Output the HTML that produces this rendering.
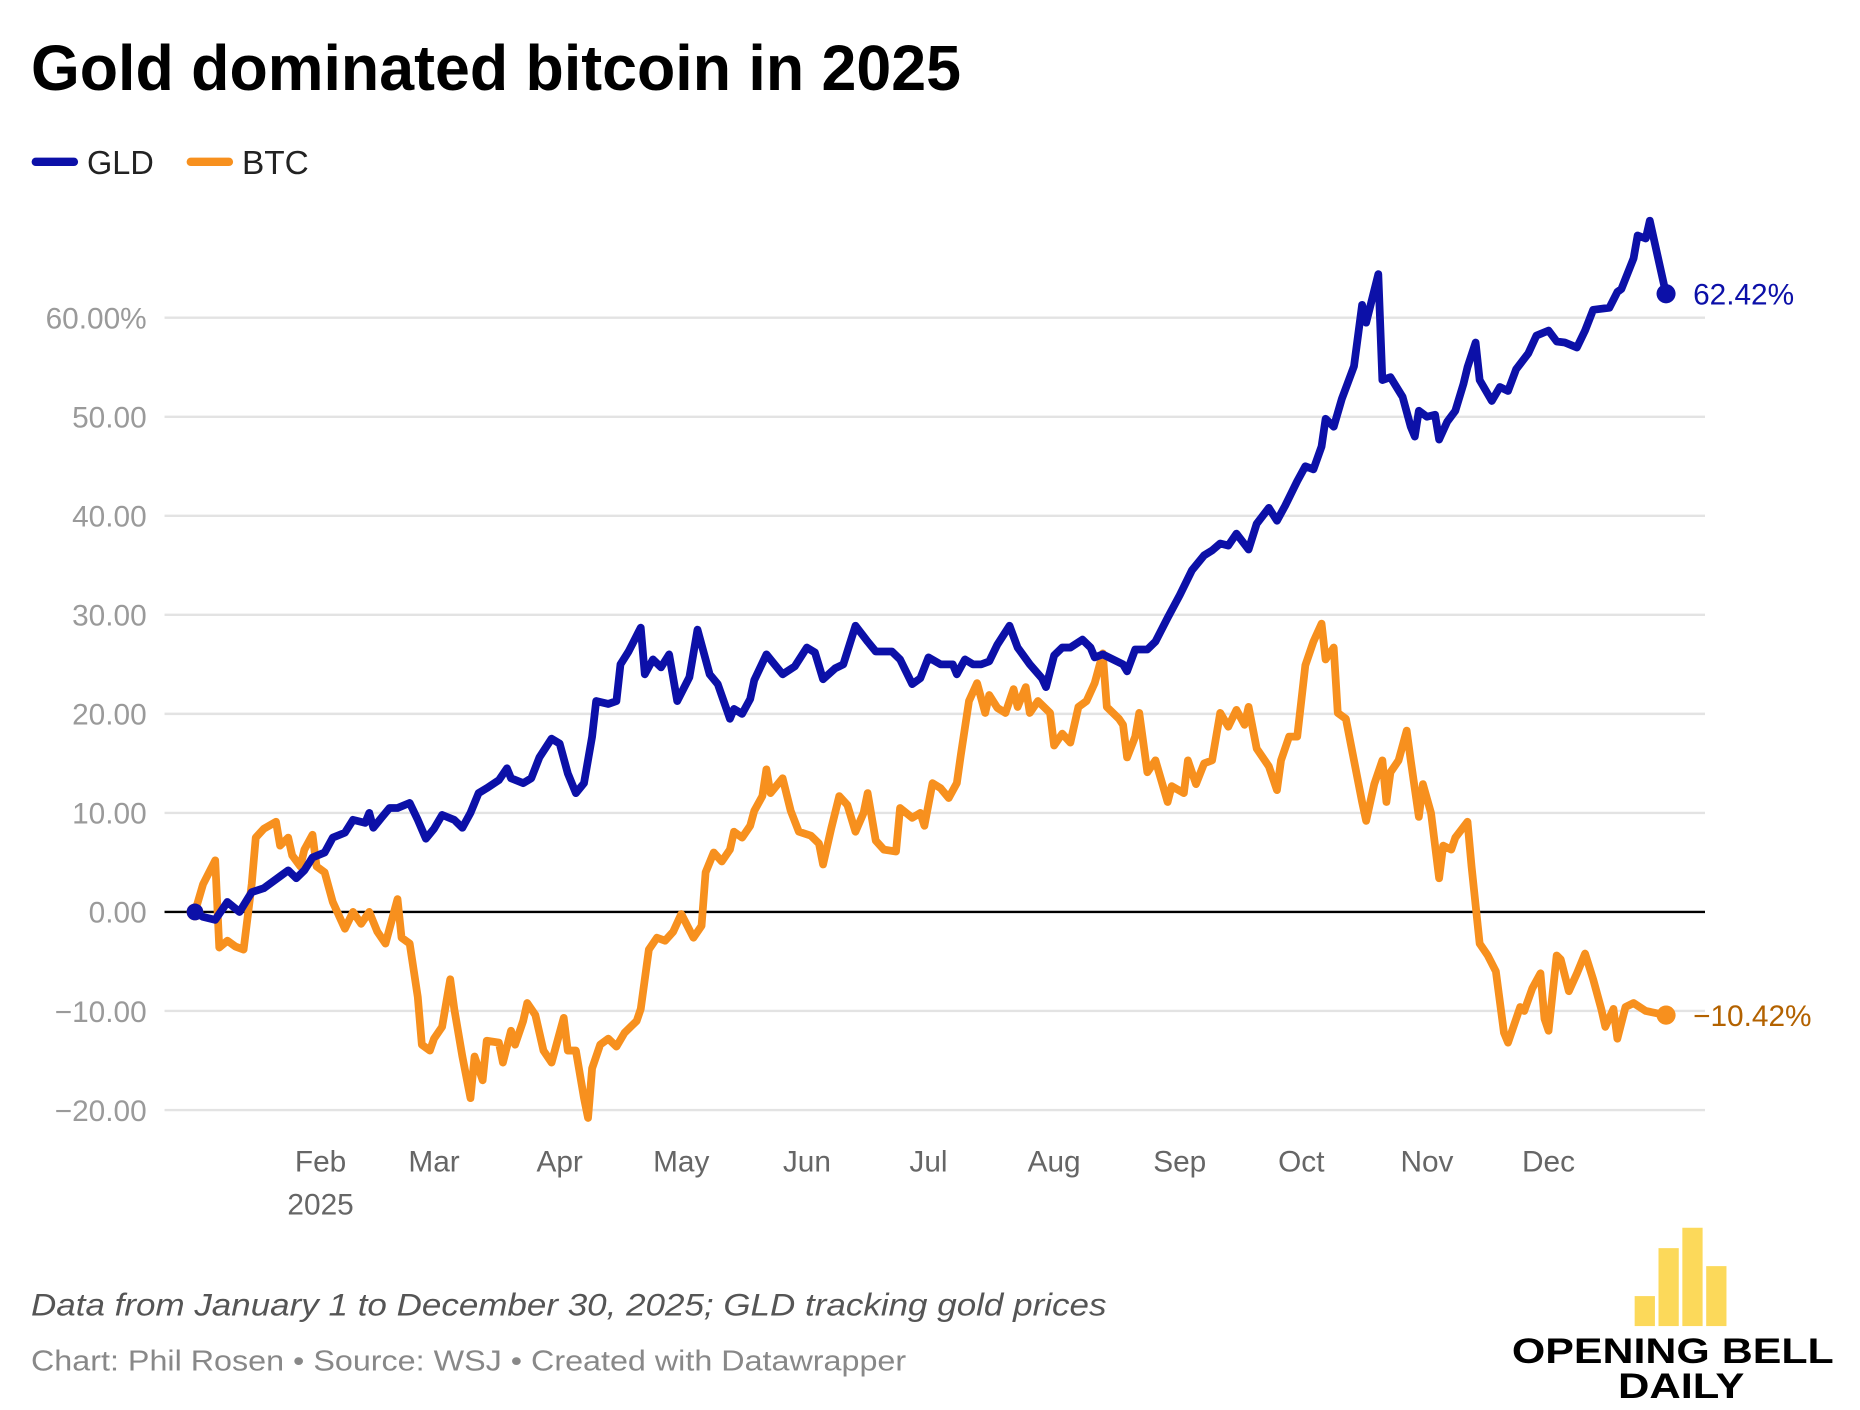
<!DOCTYPE html>
<html><head><meta charset="utf-8"><style>
html,body{margin:0;padding:0;background:#fff;}
svg{display:block;}
text{font-family:"Liberation Sans",sans-serif;}
</style></head><body>
<svg id="chart" width="1860" height="1410" viewBox="0 0 1560 1176" preserveAspectRatio="none" xmlns="http://www.w3.org/2000/svg">
<text x="26" y="75" font-size="53" font-weight="bold" fill="#000" textLength="780" lengthAdjust="spacingAndGlyphs">Gold dominated bitcoin in 2025</text>
<g>
<line x1="30" y1="135" x2="62" y2="135" stroke="#0c10a8" stroke-width="7" stroke-linecap="round"/>
<text x="73" y="145" font-size="28" fill="#222" textLength="56" lengthAdjust="spacingAndGlyphs">GLD</text>
<line x1="160" y1="135" x2="192" y2="135" stroke="#f7901e" stroke-width="7" stroke-linecap="round"/>
<text x="203" y="145" font-size="28" fill="#222" textLength="56" lengthAdjust="spacingAndGlyphs">BTC</text>
</g>
<g id="grid"></g>
<g id="yticks"></g>
<g id="xticks"></g>
<g id="series"></g>
<text x="26" y="1097" font-size="26" font-style="italic" fill="#555" textLength="902" lengthAdjust="spacingAndGlyphs">Data from January 1 to December 30, 2025; GLD tracking gold prices</text>
<text x="26" y="1143" font-size="24" fill="#888" textLength="734" lengthAdjust="spacingAndGlyphs">Chart: Phil Rosen • Source: WSJ • Created with Datawrapper</text>
<g>
<rect x="1371" y="1081" width="17" height="25" fill="#fcd95a"/>
<rect x="1391" y="1041" width="17" height="65" fill="#fcd95a"/>
<rect x="1411" y="1024" width="17" height="82" fill="#fcd95a"/>
<rect x="1431" y="1056" width="17" height="50" fill="#fcd95a"/>
<text x="1268" y="1137" font-size="29" font-weight="bold" fill="#000" textLength="270" lengthAdjust="spacingAndGlyphs">OPENING BELL</text>
<text x="1357" y="1166" font-size="29" font-weight="bold" fill="#000" textLength="106" lengthAdjust="spacingAndGlyphs">DAILY</text>
</g>
</svg>
<script>
const yTicks = [60, 50, 40, 30, 20, 10, 0, -10, -20];
const yTickLabels = ["60.00%", "50.00", "40.00", "30.00", "20.00", "10.00", "0.00", "\u221210.00", "\u221220.00"];
const monthNames = ["Feb", "Mar", "Apr", "May", "Jun", "Jul", "Aug", "Sep", "Oct", "Nov", "Dec"];
const monthDays = [31, 59, 90, 120, 151, 181, 212, 243, 273, 304, 334];
const gldDays = [0,2,5,8,11,14,17,21,23,25,27,29,32,34,37,39,42,43,44,46,48,50,53,55,57,59,61,64,66,68,70,72,75,77,78,81,83,85,88,90,92,94,96,98,99,102,104,105,107,110,111,113,115,117,119,122,124,127,129,132,133,135,137,138,141,143,145,148,151,153,155,158,160,163,166,168,172,174,177,179,181,184,187,188,190,192,194,196,198,201,203,206,209,210,212,214,216,219,221,222,224,227,229,230,232,235,237,240,243,246,249,251,253,255,257,260,262,265,267,269,272,274,276,278,279,281,283,286,288,289,292,293,295,298,300,301,302,304,306,307,309,311,313,314,316,317,320,322,324,326,329,331,334,336,338,341,343,345,349,351,352,355,356,358,359,363];
const gldValues = [0,-0.5,-0.8,1,0,2,2.4,3.6,4.2,3.4,4.2,5.5,6,7.5,8,9.3,9,10,8.5,9.5,10.5,10.5,11,9.3,7.4,8.4,9.8,9.3,8.5,10,12,12.5,13.3,14.5,13.5,13,13.5,15.6,17.5,17,14,12,13,17.7,21.3,21,21.3,25,26.3,28.7,24,25.5,24.7,26,21.3,23.7,28.5,24,23,19.5,20.5,20,21.5,23.4,26,25,24,24.8,26.7,26.2,23.5,24.6,25,28.9,27.3,26.3,26.3,25.5,23,23.6,25.7,25,25,24,25.5,25,25,25.3,27,28.9,26.7,25,23.6,22.7,25.9,26.7,26.7,27.5,26.7,25.7,26,25.4,25,24.3,26.5,26.5,27.3,29.7,32,34.5,36,36.5,37.2,37,38.2,36.6,39.2,40.8,39.5,41,43.5,45,44.7,47,49.8,49,51.8,55.1,61.3,59.5,64.4,53.7,54,52,49,48,50.6,50,50.2,47.7,49.5,50.6,53.3,55,57.5,53.7,51.6,53,52.6,54.8,56.4,58.2,58.7,57.6,57.5,57,58.7,60.8,61,62.6,62.9,66,68.3,68,69.8,62.42];
const btcDays = [0,2,5,6,8,10,12,14,15,17,20,21,23,24,26,27,29,30,32,34,36,37,39,41,43,45,47,50,51,53,55,56,58,59,61,63,64,66,68,69,71,72,75,76,78,79,81,82,84,86,88,91,92,94,96,97,98,100,102,104,106,109,110,112,114,116,118,120,123,125,126,128,130,132,133,135,137,138,140,141,142,145,147,149,152,154,155,157,159,161,163,165,166,168,170,173,174,177,179,180,182,184,186,188,189,191,193,195,196,198,200,202,203,205,206,208,211,212,214,216,218,220,222,224,225,228,229,230,232,233,235,237,240,241,244,245,247,249,251,253,255,257,259,260,262,265,267,268,270,272,274,276,278,279,281,282,284,286,288,289,291,293,294,295,297,299,300,302,303,305,307,308,310,311,314,315,317,319,321,323,324,327,328,330,332,333,334,336,337,339,341,343,345,347,348,350,351,353,355,358,363];
const btcValues = [0,2.8,5.2,-3.6,-2.9,-3.5,-3.8,2.8,7.5,8.4,9.1,6.7,7.5,5.7,4.6,6.3,7.8,4.6,4,1,-0.8,-1.7,0,-1.2,0,-2,-3.2,1.3,-2.6,-3.2,-8.6,-13.4,-14,-12.8,-11.6,-6.8,-9.8,-14.6,-18.8,-14.6,-17,-13,-13.2,-15.2,-12,-13.4,-11,-9.2,-10.4,-14,-15.2,-10.7,-14,-14,-18.8,-20.8,-15.8,-13.4,-12.8,-13.6,-12.2,-11,-9.8,-3.8,-2.6,-2.9,-2,-0.2,-2.6,-1.4,4,6,5.1,6.3,8.1,7.5,8.7,10.2,11.7,14.4,12,13.5,10.2,8.1,7.7,6.9,4.8,8.4,11.7,10.8,8.1,10,12,7.2,6.3,6.1,10.5,9.5,10,8.7,13,12.5,11.5,13,15.9,21.3,23.1,20.1,21.9,20.6,20.1,22.5,20.7,22.7,20.1,21.3,20.1,16.8,18,17.1,20.7,21.3,23.1,26.1,20.7,19.5,18.9,15.6,17.7,20.1,14.1,15.3,11.1,12.7,12,15.3,12.9,15,15.3,20.1,18.7,20.4,18.9,20.7,16.5,14.7,12.3,15.3,17.7,17.7,24.9,27.3,29.1,25.5,26.7,20.1,19.5,15.3,11.1,9.2,12.9,15.3,11.1,14.1,15.3,18.3,15.3,9.6,12.9,10,3.4,6.7,6.3,7.5,9.1,4.6,-3.2,-4.4,-6,-12.2,-13.2,-9.6,-10,-7.7,-6.2,-10.8,-12,-4.4,-4.8,-8,-6.2,-4.2,-6.8,-9.8,-11.6,-9.8,-12.8,-9.6,-9.2,-10,-10.42];

const NS = "http://www.w3.org/2000/svg";
const plotLeft = 138, plotRight = 1430;
function xScale(d) { return 163.5 + d * 3.399; }
function yScale(v) { return 760.6 - v * 8.26; }
function mk(tag, attrs, parent) {
  const el = document.createElementNS(NS, tag);
  for (const k in attrs) el.setAttribute(k, attrs[k]);
  parent.appendChild(el);
  return el;
}
const grid = document.getElementById('grid');
const yt = document.getElementById('yticks');
yTicks.forEach((v, i) => {
  const ln = mk('line', {x1: plotLeft, x2: plotRight, y1: yScale(v), y2: yScale(v), stroke: v === 0 ? '#000' : '#e3e3e3', 'stroke-width': 2}, grid);
  
  
  const t = mk('text', {x: 123, y: yScale(v) + 9, 'font-size': 25, fill: '#9a9a9a', 'text-anchor': 'end'}, yt);
  t.textContent = yTickLabels[i];
  
  
});
const xt = document.getElementById('xticks');
monthNames.forEach((m, i) => {
  const t = mk('text', {x: xScale(monthDays[i]), y: 977, 'font-size': 25, fill: '#666', 'text-anchor': 'middle'}, xt);
  t.textContent = m;
  
  
});
const yr = mk('text', {x: xScale(monthDays[0]), y: 1013, 'font-size': 25, fill: '#666', 'text-anchor': 'middle'}, xt);
yr.textContent = '2025';



const ser = document.getElementById('series');
function drawLine(days, vals, color, name) {
  const d = days.map((dd, i) => (i ? 'L' : 'M') + xScale(dd).toFixed(1) + ',' + yScale(vals[i]).toFixed(1)).join(' ');
  const p = mk('path', {d: d, fill: 'none', stroke: color, 'stroke-width': 6.5, 'stroke-linejoin': 'round', 'stroke-linecap': 'round'}, ser);
  
  
  const c0 = mk('circle', {cx: xScale(days[0]), cy: yScale(vals[0]), r: 7, fill: color}, ser);
  
  
  const n = days.length - 1;
  const c1 = mk('circle', {cx: xScale(days[n]), cy: yScale(vals[n]), r: 8, fill: color}, ser);
  
  
}
drawLine(btcDays, btcValues, '#f7901e', 'btc');
drawLine(gldDays, gldValues, '#0c10a8', 'gld');
function endLabel(days, vals, color, name) {
  const n = days.length - 1;
  const v = vals[n];
  const t = mk('text', {x: 1420, y: yScale(v) + 9, 'font-size': 25, fill: color}, ser);
  t.textContent = (v < 0 ? '\u2212' : '') + Math.abs(v).toFixed(2) + '%';
  
  
}
endLabel(gldDays, gldValues, '#0c10a8', 'gld');
endLabel(btcDays, btcValues, '#b36200', 'btc');
</script>
</body></html>
